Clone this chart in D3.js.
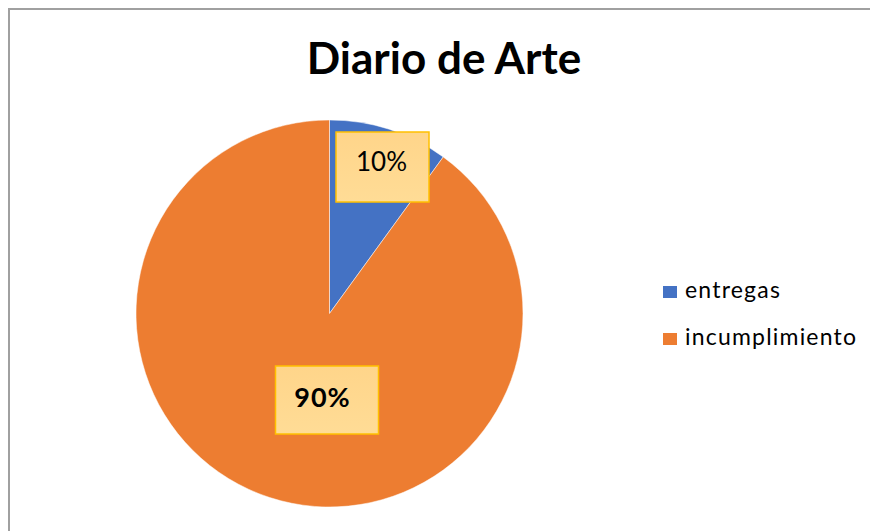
<!DOCTYPE html>
<html>
<head>
<meta charset="utf-8">
<script src="https://cdn.jsdelivr.net/npm/d3@7"></script>
<style>
  body { margin: 0; background: #fff; }
  svg { display: block; }
</style>
</head>
<body>
<div id="chart"></div>
<script>
var categories = ["entregas", "incumplimiento"];
var values = [10, 90];
var labels = ["10%", "90%"];
var colors = ["#4472c4", "#ed7d31"];

var svgWidth = 870;
var svgHeight = 531;

var svg = d3.select("#chart")
    .append("svg")
    .attr("width", svgWidth)
    .attr("height", svgHeight);

// chart frame (only top and left visible)
svg.append("rect")
    .attr("x", 9)
    .attr("y", 9)
    .attr("width", 900)
    .attr("height", 600)
    .attr("fill", "#fff")
    .attr("stroke", "#a0a0a0")
    .attr("stroke-width", 2);

var font = "Lato, Carlito, Calibri, sans-serif";

// title
svg.append("text")
    .attr("x", 444)
    .attr("y", 74)
    .attr("text-anchor", "middle")
    .attr("font-family", font)
    .attr("font-weight", "bold")
    .attr("font-size", 44)
    .attr("fill", "#000")
    .text("Diario de Arte");

// pie
var cx = 329.5, cy = 313.5, radius = 193.5;
var pie = d3.pie().sort(null).value(function (d) { return d; });
var arc = d3.arc().innerRadius(0).outerRadius(radius);
var arcs = pie(values);

var g = svg.append("g").attr("transform", "translate(" + cx + "," + cy + ")");

g.selectAll("path")
    .data(arcs)
    .enter()
    .append("path")
    .attr("d", arc)
    .attr("fill", function (d, i) { return colors[i]; })
    .attr("stroke", "#fff")
    .attr("stroke-width", 0.5);

// data labels
var grad = svg.append("defs").append("linearGradient")
    .attr("id", "lblGrad")
    .attr("x1", 0).attr("y1", 0).attr("x2", 0).attr("y2", 1);
grad.append("stop").attr("offset", "0%").attr("stop-color", "#ffd58a");
grad.append("stop").attr("offset", "100%").attr("stop-color", "#ffdc96");

// box centre offsets from the pie centre, sizes and text styles
var labelBoxes = [
    { x: 53, y: -146.5, w: 93, h: 70, bold: false, size: 26, dx: -1, dy: 3.5, ls: 0 },
    { x: -2.5, y: 86.5, w: 103, h: 68, bold: true, size: 27, dx: -4.5, dy: 7, ls: 1 }
];

arcs.forEach(function (d, i) {
    var b = labelBoxes[i];
    g.append("rect")
        .attr("x", b.x - b.w / 2)
        .attr("y", b.y - b.h / 2)
        .attr("width", b.w)
        .attr("height", b.h)
        .attr("fill", "url(#lblGrad)")
        .attr("stroke", "#ffc000")
        .attr("stroke-width", 1.5);
    g.append("text")
        .attr("x", b.x + b.dx)
        .attr("y", b.y + b.dy)
        .attr("text-anchor", "middle")
        .attr("font-family", font)
        .attr("font-weight", b.bold ? "bold" : "normal")
        .attr("font-size", b.size)
        .attr("letter-spacing", b.ls)
        .attr("fill", "#000")
        .text(labels[i]);
});

// legend
var legend = svg.append("g").attr("transform", "translate(663,286)");
var items = legend.selectAll("g")
    .data(categories)
    .enter()
    .append("g")
    .attr("transform", function (d, i) { return "translate(0," + (i * 47) + ")"; });
items.append("rect")
    .attr("width", 14)
    .attr("height", 12)
    .attr("fill", function (d, i) { return colors[i]; });
items.append("text")
    .attr("x", 22)
    .attr("y", 11.5)
    .attr("font-family", font)
    .attr("font-size", 23)
    .attr("letter-spacing", 1.2)
    .attr("fill", "#000")
    .text(function (d) { return d; });
</script>
</body>
</html>
